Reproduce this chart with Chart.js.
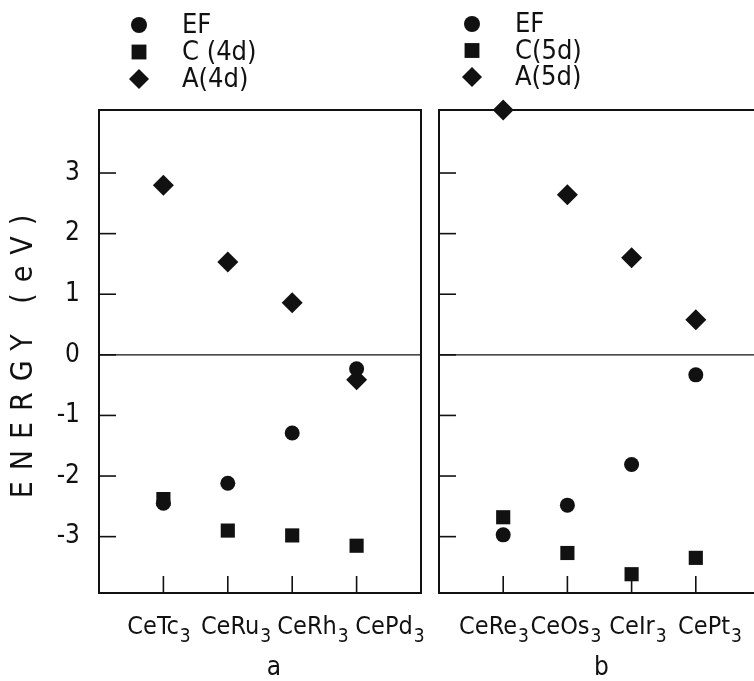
<!DOCTYPE html>
<html>
<head>
<meta charset="utf-8">
<script src="https://cdn.jsdelivr.net/npm/chart.js@4"></script>
<style>
  html, body { margin: 0; padding: 0; background: #fff; overflow: hidden; }
  #wrap { position: relative; width: 754px; height: 681px; overflow: hidden; }
  #chartA { position: absolute; left: 0; top: 0; }
  #chartB { position: absolute; left: 420px; top: 0; }
</style>
</head>
<body>
<div id="wrap">
  <canvas id="chartA" width="430" height="681"></canvas>
  <canvas id="chartB" width="360" height="681"></canvas>
</div>
<script>
// compounds (x categories)
const compoundsA = ['CeTc₃', 'CeRu₃', 'CeRh₃', 'CePd₃'];
const compoundsB = ['CeRe₃', 'CeOs₃', 'CeIr₃', 'CePt₃'];

// energies in eV
const efA = [-2.45, -2.12, -1.29, -0.23];
const c4d = [-2.38, -2.90, -2.98, -3.15];
const a4d = [2.80, 1.53, 0.86, -0.41];

const efB = [-2.97, -2.48, -1.81, -0.33];
const c5d = [-2.68, -3.27, -3.62, -3.35];
const a5d = [4.04, 2.64, 1.60, 0.58];

const yTicks = [-3, -2, -1, 0, 1, 2, 3];

const FONT = '"DejaVu Sans Condensed", "DejaVu Sans", sans-serif';
const INK = '#111';

// empty slot at each end so the 4 compounds sit on 1..4 of a 0..5 axis
const pad = arr => [null, ...arr, null];

function line(ctx, x1, y1, x2, y2) {
  ctx.beginPath();
  ctx.moveTo(x1, y1);
  ctx.lineTo(x2, y2);
  ctx.stroke();
}

// "CeTc₃" -> ["CeTc", "3"]
function splitSub(name) {
  const m = name.match(/^(.*?)([\u2080-\u2089]*)$/);
  const sub = [...m[2]].map(ch => String.fromCharCode(ch.charCodeAt(0) - 0x2080 + 48)).join('');
  return [m[1], sub];
}

// frame, inward ticks, zero line, compound labels, legend and captions
const panelPlugin = {
  id: 'panel',
  beforeDatasetsDraw(chart, args, o) {
    const { ctx, chartArea: a, scales: { x, y } } = chart;
    ctx.save();
    ctx.strokeStyle = INK;
    ctx.lineWidth = 1.3;
    const y0 = y.getPixelForValue(0);
    line(ctx, a.left, y0, a.right, y0);
    ctx.lineWidth = 1.6;
    y.ticks.forEach(t => {
      const py = y.getPixelForValue(t.value);
      line(ctx, a.left, py, a.left + 17, py);
    });
    x.ticks.forEach(t => {
      if (!x.getLabelForValue(t.value)) return;
      const px = x.getPixelForValue(t.value);
      line(ctx, px, a.bottom, px, a.bottom - 17);
    });
    ctx.lineWidth = 2;
    ctx.strokeRect(a.left, a.top, a.right - a.left, a.bottom - a.top);
    ctx.restore();
  },
  afterDraw(chart, args, o) {
    const { ctx, scales: { x } } = chart;
    ctx.save();
    ctx.fillStyle = INK;

    // compound names with subscript, set as one line under the panel
    const names = chart.data.labels.filter(l => l);
    const mid = (x.getPixelForValue(1) + x.getPixelForValue(names.length)) / 2 + o.labelShift;
    ctx.textBaseline = 'alphabetic';
    ctx.textAlign = 'left';
    names.forEach((name, i) => {
      const [base, sub] = splitSub(name);
      ctx.font = `25px ${FONT}`;
      const wb = ctx.measureText(base).width;
      ctx.font = `19px ${FONT}`;
      const ws = ctx.measureText(sub).width;
      const cx = mid + (i - (names.length - 1) / 2) * o.labelStep;
      const x0 = cx - (wb + ws) / 2;
      ctx.font = `25px ${FONT}`;
      ctx.fillText(base, x0, 634);
      ctx.font = `19px ${FONT}`;
      ctx.fillText(sub, x0 + wb + 1, 642);
    });

    // panel letter
    ctx.textAlign = 'center';
    ctx.font = `26px ${FONT}`;
    ctx.fillText(o.letter, mid, 675);

    // legend
    ctx.font = `27px ${FONT}`;
    ctx.textBaseline = 'middle';
    ctx.textAlign = 'left';
    chart.data.datasets.forEach((ds, i) => {
      const ly = o.legendY + i * o.legendStep;
      Chart.helpers.drawPoint(ctx, { pointStyle: ds.pointStyle, radius: ds.legendRadius, borderWidth: 0, rotation: 0 }, o.legendX, ly);
      ctx.fillText(ds.label, o.legendX + 43, ly + 1);
    });

    // y title
    if (o.yTitle) {
      ctx.translate(24, o.yTitleY);
      ctx.rotate(-Math.PI / 2);
      ctx.textAlign = 'center';
      ctx.letterSpacing = '11px';
      ctx.font = `30px ${FONT}`;
      ctx.fillText(o.yTitle, 5, 0);
    }
    ctx.restore();
  }
};

function makeSets(ef, c, a, names) {
  return [
    { label: names[0], data: pad(ef), pointStyle: 'circle', pointRadius: 7.5, legendRadius: 8 },
    { label: names[1], data: pad(c), pointStyle: 'rect', pointRadius: 10, legendRadius: 10.5 },
    { label: names[2], data: pad(a), pointStyle: 'rectRot', pointRadius: 10.5, legendRadius: 10 }
  ].map(d => Object.assign(d, {
    showLine: false,
    pointBackgroundColor: INK,
    pointBorderWidth: 0,
    pointHoverRadius: d.pointRadius,
    clip: false
  }));
}

function panelOptions(cfg) {
  return {
    responsive: false,
    animation: false,
    events: [],
    layout: { autoPadding: false, padding: { left: 0, right: cfg.padRight, top: 110, bottom: 0 } },
    plugins: {
      legend: { display: false },
      tooltip: { enabled: false },
      panel: cfg
    },
    scales: {
      x: {
        type: 'category',
        offset: false,
        grid: { display: false, drawTicks: false },
        border: { display: false },
        ticks: { display: false, autoSkip: false },
        afterFit: s => { s.height = 88; }
      },
      y: {
        min: -3.93,
        max: 4.04,
        grid: { display: false, drawTicks: false },
        border: { display: false },
        ticks: {
          display: cfg.yLabels, padding: 19,
          color: INK, font: { family: FONT, size: 26 }
        },
        afterBuildTicks: s => { s.ticks = yTicks.map(v => ({ value: v })); },
        afterFit: s => { s.width = cfg.yWidth; }
      }
    }
  };
}

new Chart(document.getElementById('chartA'), {
  type: 'line',
  data: {
    labels: pad(compoundsA).map(v => v || ''),
    datasets: makeSets(efA, c4d, a4d, ['EF', 'C (4d)', 'A(4d)'])
  },
  options: panelOptions({
    yLabels: true, yWidth: 99, padRight: 9,
    legendX: 139, legendY: 25, legendStep: 27,
    labelStep: 77, labelShift: 14, letter: 'a',
    yTitle: 'ENERGY (eV)', yTitleY: 356
  }),
  plugins: [panelPlugin]
});

new Chart(document.getElementById('chartB'), {
  type: 'line',
  data: {
    labels: pad(compoundsB).map(v => v || ''),
    datasets: makeSets(efB, c5d, a5d, ['EF', 'C(5d)', 'A(5d)'])
  },
  options: panelOptions({
    yLabels: false, yWidth: 19, padRight: 20,
    legendX: 52, legendY: 24, legendStep: 26.5,
    labelStep: 72, labelShift: 2, letter: 'b',
    yTitle: null
  }),
  plugins: [panelPlugin]
});
</script>
</body>
</html>
